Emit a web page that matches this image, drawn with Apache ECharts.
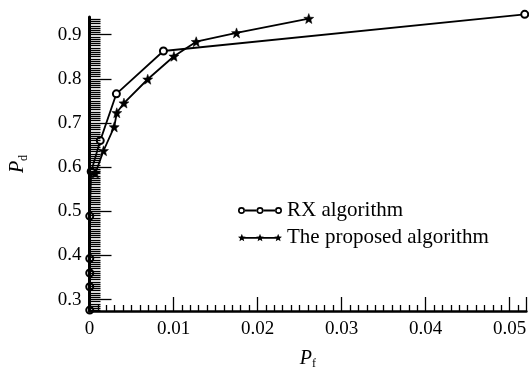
<!DOCTYPE html>
<html>
<head>
<meta charset="utf-8">
<script src="https://cdn.jsdelivr.net/npm/echarts@6/dist/echarts.min.js"></script>
<style>html,body{margin:0;padding:0;background:#fff}#c{width:529px;height:375px}</style>
</head>
<body>
<div id="c"></div>
<script>
var rxPf = [0.00003, 0.00003, 0.00003, 0.00003, 0.00003, 0.0002, 0.00128, 0.0032, 0.0088, 0.0518];
var rxPd = [0.276, 0.329, 0.360, 0.393, 0.489, 0.590, 0.660, 0.766, 0.863, 0.946];
var propPf = [0.0007, 0.00167, 0.00294, 0.00325, 0.0041, 0.00693, 0.01005, 0.0127, 0.0175, 0.0261];
var propPd = [0.586, 0.637, 0.691, 0.723, 0.745, 0.799, 0.851, 0.884, 0.904, 0.9365];
var seriesNames = ['RX algorithm', 'The proposed algorithm'];
var xTicks = [0, 0.01, 0.02, 0.03, 0.04, 0.05];
var xTickLabels = ['0', '0.01', '0.02', '0.03', '0.04', '0.05'];
var yTicks = [0.3, 0.4, 0.5, 0.6, 0.7, 0.8, 0.9];
var yTickLabels = ['0.3', '0.4', '0.5', '0.6', '0.7', '0.8', '0.9'];

function zip(a, b) { return a.map(function (v, i) { return [v, b[i]]; }); }
var FONT = 'Liberation Serif';

function starPts(cx, cy, R, r) {
  var s = '';
  for (var i = 0; i < 10; i++) {
    var ang = -Math.PI / 2 + i * Math.PI / 5, rr = (i % 2 === 0) ? R : r;
    s += (i === 0 ? 'M' : 'L') + (cx + rr * Math.cos(ang)).toFixed(2) + ',' + (cy + rr * Math.sin(ang)).toFixed(2);
  }
  return s + 'Z';
}
var STAR = 'path://' + starPts(0, 0, 10, 4.2);
function ring(cx, cy, R, r) {
  return 'M' + (cx - R) + ',' + cy + 'A' + R + ',' + R + ' 0 1,0 ' + (cx + R) + ',' + cy + 'A' + R + ',' + R + ' 0 1,0 ' + (cx - R) + ',' + cy + 'Z' +
         'M' + (cx - r) + ',' + cy + 'A' + r + ',' + r + ' 0 1,1 ' + (cx + r) + ',' + cy + 'A' + r + ',' + r + ' 0 1,1 ' + (cx - r) + ',' + cy + 'Z';
}
function bar(x0, x1, cy, h) { return 'M' + x0 + ',' + (cy - h) + 'L' + x1 + ',' + (cy - h) + 'L' + x1 + ',' + (cy + h) + 'L' + x0 + ',' + (cy + h) + 'Z'; }
var RX_ICON = 'path://' + ring(4, 4, 3.4, 1.8) + ring(22, 4, 3.4, 1.8) + ring(40, 4, 3.4, 1.8) + bar(7.2, 18.8, 4, 0.9) + bar(25.2, 36.8, 4, 0.9);
var ST_ICON = 'path://' + starPts(4, 4, 4, 1.8) + starPts(22, 4, 4, 1.8) + starPts(40, 4, 4, 1.8) + bar(4, 40, 4, 0.9);

var yMinor = [];
for (var k = 55; k <= 188; k++) { var v = k * 0.005; if (v >= 0.274 && v <= 0.94 && k % 20 !== 0) yMinor.push(+v.toFixed(3)); }

var chart = echarts.init(document.getElementById('c'), null, {renderer: 'canvas'});
chart.setOption({
  animation: false,
  backgroundColor: '#fff',
  grid: {left: 84, right: 0, top: 17, bottom: 54, containLabel: false},
  legend: {
    orient: 'vertical', left: 233, top: 195, itemGap: 6, itemWidth: 44, itemHeight: 8,
    textStyle: {fontFamily: FONT, fontSize: 21, color: '#000'},
    itemStyle: {color: '#000', borderWidth: 0},
    data: [{name: seriesNames[0], icon: RX_ICON}, {name: seriesNames[1], icon: ST_ICON}]
  },
  xAxis: {
    type: 'value', min: 0, max: 0.052, interval: 0.01,
    name: '{p|P}{s|f}', nameLocation: 'middle', nameGap: 36,
    nameTextStyle: {rich: {p: {fontFamily: FONT, fontStyle: 'italic', fontSize: 20, color: '#000'}, s: {fontFamily: FONT, fontSize: 12, color: '#000', padding: [11, 0, 0, 0]}}},
    axisLine: {show: true, onZero: false, lineStyle: {color: '#000', width: 2.5}},
    axisTick: {show: true, inside: true, length: 14, lineStyle: {color: '#000', width: 1.3}},
    minorTick: {show: true, splitNumber: 10, length: 6, lineStyle: {color: '#000', width: 1.3}},
    splitLine: {show: false}, minorSplitLine: {show: false},
    axisLabel: {margin: 9, fontFamily: FONT, fontSize: 19, color: '#000', showMaxLabel: false,
      formatter: function (v) { var i = xTicks.findIndex(function (t) { return Math.abs(t - v) < 1e-9; }); return i >= 0 ? xTickLabels[i] : ''; }}
  },
  yAxis: [{
    type: 'value', min: 0.274, max: 0.94,
    name: '{p|P}{s|d}', nameLocation: 'middle', nameGap: 60, nameRotate: 90,
    nameTextStyle: {rich: {p: {fontFamily: FONT, fontStyle: 'italic', fontSize: 20, color: '#000'}, s: {fontFamily: FONT, fontSize: 12, color: '#000', padding: [11, 0, 0, 0]}}},
    axisLine: {show: true, onZero: false, lineStyle: {color: '#000', width: 3}},
    axisTick: {show: true, inside: true, length: 22, customValues: yTicks, lineStyle: {color: '#000', width: 1.3}},
    minorTick: {show: false},
    splitLine: {show: false},
    axisLabel: {margin: 8, fontFamily: FONT, fontSize: 19, color: '#000', customValues: yTicks,
      formatter: function (v) { var i = yTicks.findIndex(function (t) { return Math.abs(t - v) < 1e-9; }); return i >= 0 ? yTickLabels[i] : ''; }}
  }, {
    type: 'value', min: 0.274, max: 0.94, position: 'left', offset: 0,
    axisLine: {show: false},
    axisTick: {show: true, inside: true, length: 11, customValues: yMinor, lineStyle: {color: '#000', width: 1.3}},
    axisLabel: {show: false}, splitLine: {show: false}
  }],
  series: [
    {
      name: seriesNames[0], type: 'line', clip: false, z: -1, data: zip(rxPf, rxPd),
      symbol: 'emptyCircle', symbolSize: 7,
      lineStyle: {color: '#000', width: 1.8},
      itemStyle: {color: '#000', borderWidth: 1.7}
    },
    {
      name: seriesNames[1], type: 'line', clip: false, data: zip(propPf, propPd),
      symbol: STAR, symbolSize: 10,
      lineStyle: {color: '#000', width: 1.8},
      itemStyle: {color: '#000', borderColor: '#000', borderWidth: 0.5}
    }
  ]
});
</script>
</body>
</html>
